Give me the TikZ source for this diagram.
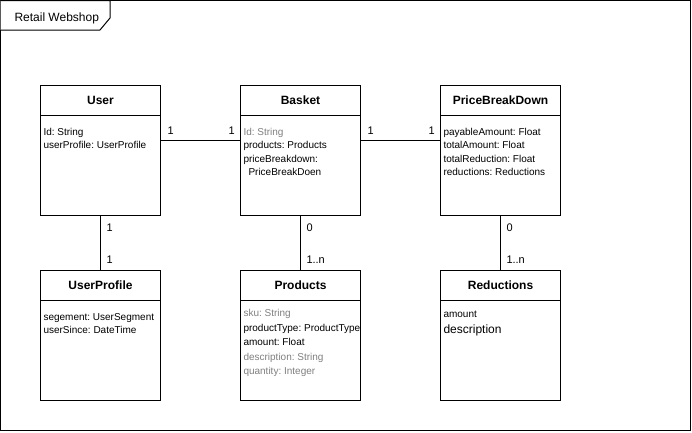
\documentclass[tikz,border=0pt]{standalone}
\usepackage{fontspec}
\setmainfont{Liberation Sans}
\definecolor{attrgrey}{HTML}{808080}
\frenchspacing
\begin{document}
\begin{tikzpicture}[x=1pt,y=-1pt,line width=1pt,
  cls/.style={draw,fill=white,minimum width=120pt,minimum height=130pt,inner sep=0pt,anchor=north west},
  clstitle/.style={font=\fontsize{12}{14}\selectfont\bfseries,inner sep=0pt},
  attr/.style={font=\fontsize{10}{12}\selectfont,anchor=base west,inner sep=0pt},
  dim/.style={text=attrgrey},
  big/.style={font=\fontsize{12}{14}\selectfont},
  mult/.style={font=\fontsize{11}{13}\selectfont,anchor=base west,inner sep=0pt},
  conn/.style={draw,line width=1pt}]
\useasboundingbox (0,0) rectangle (692,432);
% frame
\draw (0.5,0.5) rectangle (690.5,430.5);
\draw[fill=white] (0.5,0.5) -- (110,0.5) -- (110,18) -- (100,30) -- (0.5,30);
\node[font=\fontsize{12}{14}\selectfont,anchor=base west,inner sep=0pt] (frametitle) at (14,21.5) {Retail Webshop};
% classes
\node[cls] (user) at (40,85) {};
\node[cls] (basket) at (240,85) {};
\node[cls] (pbd) at (440,85) {};
\node[cls] (uprof) at (40,270) {};
\node[cls] (prods) at (240,270) {};
\node[cls] (reds) at (440,270) {};
\foreach \c in {user,basket,pbd,uprof,prods,reds}{
  \draw ([yshift=-30pt]\c.north west) -- ([yshift=-30pt]\c.north east);
}
\node[clstitle] (userT) at ([yshift=-15pt]user.north) {User};
\node[clstitle] (basketT) at ([yshift=-15pt]basket.north) {Basket};
\node[clstitle] (pbdT) at ([yshift=-15pt]pbd.north) {PriceBreakDown};
\node[clstitle] (uprofT) at ([yshift=-15pt]uprof.north) {UserProfile};
\node[clstitle] (prodsT) at ([yshift=-15pt]prods.north) {Products};
\node[clstitle] (redsT) at ([yshift=-15pt]reds.north) {Reductions};
% attributes
\node[attr] (u1) at (43,135.3) {Id: String};
\node[attr] (u2) at (43,148.8) {userProfile: UserProfile};
\node[attr,dim] (b1) at (243,135.3) {Id: String};
\node[attr] (b2) at (243,148.8) {products: Products};
\node[attr] (b3) at (243,162.3) {priceBreakdown:};
\node[attr] (b4) at (248,175.8) {PriceBreakDoen};
\node[attr] (p1) at (443,135.3) {payableAmount: Float};
\node[attr] (p2) at (443,148.8) {totalAmount: Float};
\node[attr] (p3) at (443,162.3) {totalReduction: Float};
\node[attr] (p4) at (443,175.8) {reductions: Reductions};
\node[attr] (up1) at (43,320) {segement: UserSegment};
\node[attr] (up2) at (43,333.5) {userSince: DateTime};
\node[attr,dim] (pr1) at (243,316.8) {sku: String};
\node[attr] (pr2) at (243,331.3) {productType: ProductType};
\node[attr] (pr3) at (243,345.8) {amount: Float};
\node[attr,dim] (pr4) at (243,360.3) {description: String};
\node[attr,dim] (pr5) at (243,374.8) {quantity: Integer};
\node[attr] (r1) at (443,317.6) {amount};
\node[attr,big] (r2) at (443,333.5) {description};
% connectors
\draw[conn] ([yshift=10pt]user.east) -- ([yshift=10pt]basket.west);
\draw[conn] ([yshift=10pt]basket.east) -- ([yshift=10pt]pbd.west);
\draw[conn] (user.south) -- (uprof.north);
\draw[conn] (basket.south) -- (prods.north);
\draw[conn] (pbd.south) -- (reds.north);
% multiplicities
\node[mult] (m1) at (167,134.5) {1};
\node[mult] (m2) at (228,134.5) {1};
\node[mult] (m3) at (367,134.5) {1};
\node[mult] (m4) at (428,134.5) {1};
\node[mult] (m5) at (106,231) {1};
\node[mult] (m6) at (106,263.5) {1};
\node[mult] (m7) at (306,231) {0};
\node[mult] (m8) at (306,263.5) {1..n};
\node[mult] (m9) at (506,231) {0};
\node[mult] (m10) at (506,263.5) {1..n};
\end{tikzpicture}
\end{document}
